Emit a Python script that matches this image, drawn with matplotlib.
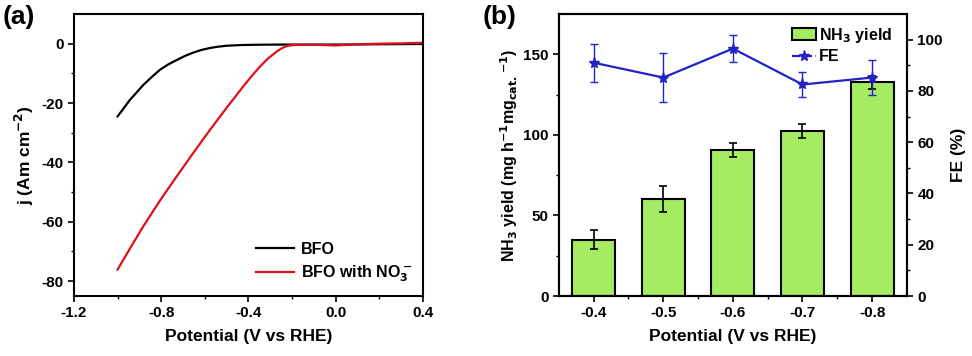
import matplotlib
matplotlib.use("Agg")
import matplotlib.pyplot as plt
from matplotlib.lines import Line2D
import numpy as np

plt.rcParams['font.family'] = ['Liberation Sans', 'DejaVu Sans']
plt.rcParams['font.weight'] = 'bold'
plt.rcParams['mathtext.default'] = 'bf'

# Panel (a) data: LSV curves
bfo_v = [-1.0, -0.943, -0.882, -0.843, -0.806, -0.768, -0.729, -0.69, -0.653, -0.615,
         -0.576, -0.538, -0.5, -0.462, -0.424, -0.35, -0.25, -0.1, 0.0, 0.2, 0.4]
bfo_j = [-24.5, -18.9, -13.9, -11.2, -8.8, -7.0, -5.5, -4.1, -3.0, -2.1,
         -1.45, -1.0, -0.7, -0.55, -0.45, -0.35, -0.3, -0.3, -0.3, -0.2, -0.1]
no3_v = [-1.0, -0.94, -0.882, -0.806, -0.729, -0.652, -0.576, -0.5, -0.424, -0.385,
         -0.347, -0.309, -0.271, -0.248, -0.225, -0.2, -0.179, -0.1, 0.0, 0.1, 0.2, 0.3, 0.4]
no3_j = [-76.1, -68.6, -61.5, -52.9, -44.7, -36.7, -29.0, -21.6, -14.4, -10.9,
         -7.7, -4.9, -2.7, -1.6, -0.8, -0.5, -0.4, -0.35, -0.6, -0.2, 0.0, 0.1, 0.3]

# Panel (b) data
potentials = ['-0.4', '-0.5', '-0.6', '-0.7', '-0.8']
nh3_yield = [35, 60, 90.5, 102.5, 132.5]
nh3_err = [6, 8, 4.5, 4.5, 4]
fe = [91.0, 85.2, 96.5, 82.5, 85.2]
fe_err = [7.4, 9.4, 5.2, 5.0, 6.7]

fig = plt.figure(figsize=(9.72, 3.56), dpi=100)

TL = 11      # tick label size
AL = 12.5    # axis label size
BLUE = '#2222c8'

# ---- Panel (a)
axa = fig.add_axes([0.0761, 0.1685, 0.359, 0.7922])
axa.plot(bfo_v, bfo_j, color='black', lw=1.6, label='BFO')
axa.plot(no3_v, no3_j, color='#e0101a', lw=1.6, label='BFO with NO$_3^-$')
axa.set_xlim(-1.2, 0.4)
axa.set_ylim(-85, 10)
axa.set_xticks([-1.2, -0.8, -0.4, 0.0, 0.4])
axa.set_xticks([-1.0, -0.6, -0.2, 0.2], minor=True)
axa.set_yticks([-80, -60, -40, -20, 0])
axa.set_yticks([-70, -50, -30, -10], minor=True)
axa.set_xticklabels(['-1.2', '-0.8', '-0.4', '0.0', '0.4'])
axa.set_yticklabels(['-80', '-60', '-40', '-20', '0'])
axa.set_xlabel('Potential (V vs RHE)', fontsize=AL, fontweight='bold', labelpad=6)
axa.set_ylabel('j (Am cm$^{-2}$)', fontsize=AL, fontweight='bold', labelpad=4)
axa.tick_params(which='major', direction='out', length=4, width=1.2, labelsize=TL)
axa.tick_params(which='minor', direction='out', length=2.5, width=1.0)
for s in axa.spines.values():
    s.set_linewidth(1.5)
axa.legend(loc='lower right', bbox_to_anchor=(1.01, -0.01), frameon=False,
           fontsize=11.5, handlelength=2.4, handletextpad=0.4, labelspacing=0.45)
fig.text(0.003, 0.985, '(a)', fontsize=19, fontweight='bold', va='top', ha='left')

# ---- Panel (b)
axb = fig.add_axes([0.575, 0.1685, 0.358, 0.7922])
x = np.arange(len(potentials))
bars = axb.bar(x, nh3_yield, width=0.62, color='#a6ec62', edgecolor='black', linewidth=1.5,
               yerr=nh3_err, error_kw=dict(ecolor='black', elinewidth=1.2, capsize=3, capthick=1.2),
               label='NH$_3$ yield', zorder=2)
axb.set_xlim(-0.5, 4.5)
axb.set_ylim(0, 175)
axb.set_xticks(x)
axb.set_xticklabels(potentials)
axb.set_xticks(x[:-1] + 0.5, minor=True)
axb.set_yticks([0, 50, 100, 150])
axb.set_yticks([25, 75, 125], minor=True)
axb.set_xlabel('Potential (V vs RHE)', fontsize=AL, fontweight='bold', labelpad=6)
axb.set_ylabel('NH$_3$ yield (mg h$^{-1}$mg$_{cat.}$$^{-1}$)', fontsize=11.5,
               fontweight='bold', labelpad=2)
axb.tick_params(which='major', direction='out', length=4, width=1.2, labelsize=TL)
axb.tick_params(which='minor', direction='out', length=2.5, width=1.0)

axr = axb.twinx()
axr.errorbar(x, fe, yerr=fe_err, color=BLUE, lw=1.6, marker='*', markersize=8,
             capsize=3, elinewidth=1.0, capthick=1.0)
axr.set_ylim(0, 110)
axr.set_yticks([0, 20, 40, 60, 80, 100])
axr.set_yticks([10, 30, 50, 70, 90], minor=True)
axr.set_ylabel('FE (%)', fontsize=AL, fontweight='bold', labelpad=6)
axr.tick_params(which='major', direction='out', length=4, width=1.2, labelsize=TL)
axr.tick_params(which='minor', direction='out', length=2.5, width=1.0)
for ax in (axb, axr):
    for s in ax.spines.values():
        s.set_linewidth(1.5)

fe_handle = Line2D([], [], color=BLUE, lw=1.6, ls='--', marker='*', markersize=8)
axr.legend([bars, fe_handle], ['NH$_3$ yield', 'FE'], loc='upper right',
           bbox_to_anchor=(1.0, 1.01), frameon=False,
           fontsize=11.5, handlelength=1.5, handletextpad=0.2, labelspacing=0.3)
fig.text(0.497, 0.985, '(b)', fontsize=19, fontweight='bold', va='top', ha='left')

fig.savefig('out.png', dpi=100)
